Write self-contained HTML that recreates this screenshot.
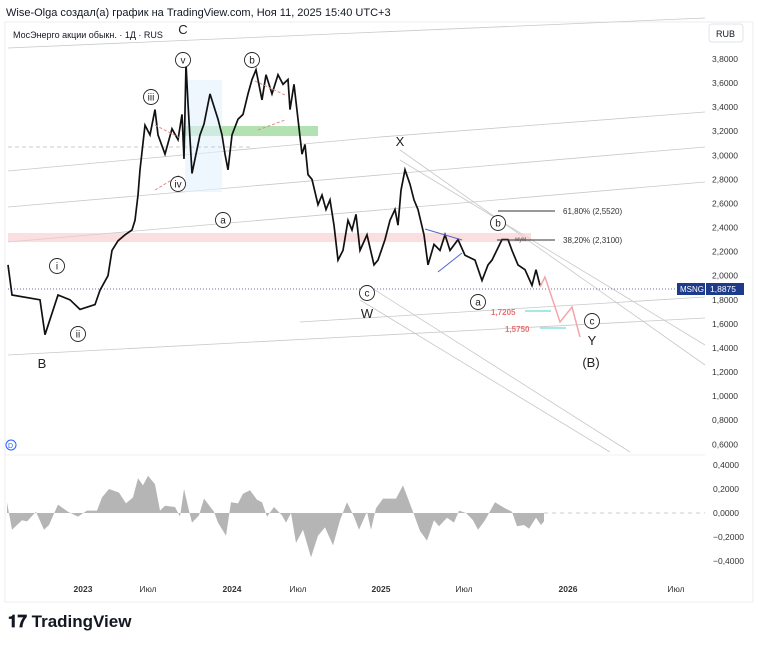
<!DOCTYPE html>
<html><head><meta charset="utf-8"><style>
body{margin:0;background:#fff;font-family:"Liberation Sans","Noto Sans CJK SC",sans-serif;}
svg text{font-family:"Liberation Sans","DejaVu Sans",sans-serif;}
</style></head><body>
<svg id="c" width="758" height="644" viewBox="0 0 758 644" xmlns="http://www.w3.org/2000/svg">
<rect width="758" height="644" fill="#fff"/>
<text x="6" y="16" font-size="11" fill="#131722">Wise-Olga создал(а) график на TradingView.com, Ноя 11, 2025 15:40 UTC+3</text>
<rect x="5" y="22" width="748" height="580" fill="none" stroke="#eceef2"/>
<line x1="5" y1="455" x2="705" y2="455" stroke="#f0f0f0"/>
<text x="13" y="38" font-size="9" fill="#131722">МосЭнерго акции обыкн. · 1Д · RUS</text>
<rect x="709" y="24" width="34" height="18" rx="3" fill="#fff" stroke="#e0e3eb"/>
<text x="716" y="37" font-size="9" fill="#131722">RUB</text>
<g id="bg"></g>
<rect x="8" y="233" width="523" height="9" fill="#f8c8cc" opacity="0.6"/>
<rect x="185" y="126" width="133" height="10" fill="#9fdb9f" opacity="0.8"/>
<rect x="185" y="80" width="37" height="112" fill="#e3f2fd" opacity="0.6"/>
<line x1="8" y1="147" x2="250" y2="147" stroke="#bbb" stroke-dasharray="4 3" stroke-width="0.7"/>
<line x1="8" y1="289" x2="705" y2="289" stroke="#3a4a8a" stroke-dasharray="1 2" stroke-width="0.8"/>
<g id="price"></g>
<g id="annot"></g>
<g id="axis"></g>
<g id="osc"></g>
<text x="8" y="627" font-size="17" font-weight="bold" fill="#131722">𝟏𝟕 TradingView</text>
</svg>
<script>
const NS='http://www.w3.org/2000/svg';
function mk(parent,tag,attrs,name,txt){const e=document.createElementNS(NS,tag);for(const k in attrs)e.setAttribute(k,attrs[k]);


if(txt!==undefined)e.textContent=txt;document.getElementById(parent).appendChild(e);return e;}

const priceBars=[0,4,32,37,50,62,72,87,92,100,104,110,117,124,127,130,132,137,142,147,150,157,164,170,174,176,178,180,184,192,196,202,210,214,217,220,224,230,235,240,244,248,254,258,264,270,275,280,282,286,290,294,297,300,304,310,314,318,322,326,330,335,340,344,348,352,359,366,370,377,382,387,390,393,397,402,406,410,416,420,426,432,437,442,450,457,467,474,480,484,494,498,500,504,510,517,524,528,532];
const prices=[2.09,1.84,1.80,1.51,1.84,1.80,1.72,1.76,1.88,2.00,2.21,2.29,2.34,2.38,2.46,2.67,2.88,3.25,3.17,3.38,3.17,3.01,3.22,3.13,3.34,2.97,3.76,3.43,2.85,3.17,3.26,3.51,3.30,3.17,3.01,2.88,3.17,3.30,3.34,3.51,3.63,3.71,3.46,3.67,3.51,3.67,3.59,3.63,3.38,3.59,3.30,3.01,3.09,2.84,2.80,2.59,2.67,2.55,2.63,2.42,2.13,2.21,2.46,2.38,2.51,2.21,2.34,2.09,2.13,2.30,2.46,2.55,2.42,2.71,2.88,2.76,2.63,2.55,2.34,2.09,2.26,2.21,2.34,2.21,2.30,2.17,2.13,1.96,2.09,2.13,2.30,2.30,2.30,2.21,2.09,2.05,1.92,2.05,1.92];
const oscBars=[-1,4,14,19,28,36,41,50,60,70,79,89,94,101,111,118,125,130,135,140,147,152,157,167,172,176,181,184,191,196,206,210,218,223,230,235,242,249,254,259,266,274,278,283,288,295,303,310,317,325,332,339,346,351,359,363,368,375,383,388,395,405,412,419,426,431,439,446,451,458,465,470,477,487,497,504,509,516,521,528,533,536];
const oscVals=[0.09,-0.14,-0.06,-0.07,0.01,-0.14,-0.10,0.07,0.01,-0.03,0.02,0.02,0.13,0.20,0.17,0.08,0.13,0.29,0.23,0.31,0.24,0.02,0.06,0.05,-0.03,0.20,0.02,-0.08,-0.02,0.12,0.01,-0.08,-0.19,0.09,0.08,0.16,0.19,0.11,0.09,-0.03,0.05,-0.02,-0.08,0,-0.25,-0.14,-0.37,-0.19,-0.12,-0.27,-0.06,0.09,-0.03,-0.14,0.01,-0.14,0.04,0.12,0.12,0.12,0.23,0.01,-0.15,-0.23,-0.06,-0.11,-0.04,-0.08,0.02,0,-0.06,-0.14,-0.06,0.09,0.04,0.01,-0.11,-0.10,-0.13,-0.04,-0.10,-0.07];
const priceTicks=['3,8000','3,6000','3,4000','3,2000','3,0000','2,8000','2,6000','2,4000','2,2000','2,0000','1,8000','1,6000','1,4000','1,2000','1,0000','0,8000','0,6000'];
const priceTickVals=[3.8,3.6,3.4,3.2,3.0,2.8,2.6,2.4,2.2,2.0,1.8,1.6,1.4,1.2,1.0,0.8,0.6];
const oscTicks=['0,4000','0,2000','0,0000','−0,2000','−0,4000'];
const oscTickVals=[0.4,0.2,0,-0.2,-0.4];
const timeLabels=['2023','Июл','2024','Июл','2025','Июл','2026','Июл'];
const timeBars=[75,140,224,290,373,456,560,668];
const timeBold=[1,0,1,0,1,0,1,0];

const xS=b=>8+b;
const yP=p=>59+(3.8-p)*120.4;
const yO=v=>513-v*120;

const bgLines=[[8,48,705,18],[8,207,705,147],[8,242,705,182],[8,171,380,137],[380,137,705,112],[8,355,705,318],[300,322,705,297],[400,150,705,365],[400,160,705,345],[375,290,630,452],[360,300,610,452]];
bgLines.forEach(l=>{mk('bg','line',{x1:l[0],y1:l[1],x2:l[2],y2:l[3],stroke:'#c8c8c8','stroke-width':0.8},'channel-line');});

let d='';priceBars.forEach((b,i)=>{d+=(i?'L':'M')+xS(b).toFixed(1)+' '+yP(prices[i]).toFixed(1);});
mk('price','path',{d:d,fill:'none',stroke:'#111','stroke-width':1.7,'stroke-linejoin':'miter'},'price-series');

let od='M'+xS(oscBars[0])+' '+yO(0);oscBars.forEach((b,i)=>{od+='L'+xS(b)+' '+yO(oscVals[i]).toFixed(1);});
od+='L'+xS(oscBars[oscBars.length-1])+' '+yO(0)+'Z';
mk('osc','path',{d:od,fill:'#b5b5b5',stroke:'none'},'oscillator-area');
mk('osc','line',{x1:xS(oscBars[oscBars.length-1]),y1:yO(0),x2:705,y2:yO(0),stroke:'#ccc','stroke-dasharray':'4 4'},'oscillator-zero-line');

priceTickVals.forEach((v,i)=>{mk('axis','text',{x:712,y:yP(v)+3,'font-size':8.5,fill:'#333'},'price-tick-label',priceTicks[i]);});
oscTickVals.forEach((v,i)=>{mk('axis','text',{x:713,y:yO(v)+3,'font-size':8.5,fill:'#333'},'osc-tick-label',oscTicks[i]);});
timeLabels.forEach((t,i)=>{mk('axis','text',{x:xS(timeBars[i]),y:592,'font-size':8.5,fill:'#333','text-anchor':'middle','font-weight':timeBold[i]?'bold':'normal'},'time-label',t);});
mk('axis','rect',{x:677,y:283,width:28,height:12,fill:'#1e3a8a'},'symbol-tag');
mk('axis','text',{x:680,y:292,'font-size':8,fill:'#fff'},'symbol-tag-text','MSNG');
mk('axis','rect',{x:706,y:283,width:38,height:12,fill:'#1e3a8a'},'last-price-tag');
mk('axis','text',{x:710,y:292,'font-size':8.5,fill:'#fff'},'last-price-text','1,8875');
mk('axis','circle',{cx:11,cy:445,r:5,fill:'#fff',stroke:'#2962ff'},'indicator-icon');
mk('axis','text',{x:8,y:448,'font-size':7,fill:'#2962ff'},'indicator-icon-text','D');

const A='annot';
mk(A,'line',{x1:498,y1:211,x2:555,y2:211,stroke:'#333'},'fib-618-line');
mk(A,'text',{x:563,y:214,'font-size':8,fill:'#333'},'fib-618-label','61,80% (2,5520)');
mk(A,'line',{x1:497,y1:240,x2:555,y2:240,stroke:'#333'},'fib-382-line');
mk(A,'text',{x:563,y:243,'font-size':8,fill:'#333'},'fib-382-label','38,20% (2,3100)');
mk(A,'text',{x:515,y:241,'font-size':6,fill:'#555'},'fib-mini-label','мум');
mk(A,'polyline',{points:'540,287 545,277 560,322 572,307 580,337',fill:'none',stroke:'#f4a6aa','stroke-width':1.5},'projected-path');
mk(A,'text',{x:491,y:315,'font-size':8,'font-weight':'bold',fill:'#e57373'},'target-1-label','1,7205');
mk(A,'line',{x1:525,y1:311,x2:551,y2:311,stroke:'#4dd0c8'},'target-1-arrow');
mk(A,'text',{x:505,y:332,'font-size':8,'font-weight':'bold',fill:'#e57373'},'target-2-label','1,5750');
mk(A,'line',{x1:540,y1:328,x2:566,y2:328,stroke:'#4dd0c8'},'target-2-arrow');
mk(A,'line',{x1:425,y1:229,x2:462,y2:240,stroke:'#5566cc'},'triangle-upper');
mk(A,'line',{x1:438,y1:272,x2:462,y2:253,stroke:'#5566cc'},'triangle-lower');
mk(A,'line',{x1:155,y1:125,x2:180,y2:138,stroke:'#e08a8a','stroke-dasharray':'3 2'},'wedge-line');
mk(A,'line',{x1:155,y1:190,x2:180,y2:175,stroke:'#e08a8a','stroke-dasharray':'3 2'},'wedge-line');
mk(A,'line',{x1:255,y1:81,x2:285,y2:95,stroke:'#e08a8a','stroke-dasharray':'3 2'},'wedge-line');
mk(A,'line',{x1:258,y1:130,x2:285,y2:120,stroke:'#e08a8a','stroke-dasharray':'3 2'},'wedge-line');
const circ=[['i',57,266],['ii',78,334],['iii',151,97],['iv',178,184],['v',183,60],['b',252,60],['a',223,220],['c',367,293],['a',478,302],['b',498,223],['c',592,321]];
circ.forEach(c=>{mk(A,'circle',{cx:c[1],cy:c[2],r:7.5,fill:'#fff',stroke:'#222','stroke-width':0.9},'wave-circle-'+c[0]);
mk(A,'text',{x:c[1],y:c[2]+3.5,'font-size':10,fill:'#222','text-anchor':'middle'},'wave-label-'+c[0],c[0]);});
const plain=[['C',183,34],['B',42,368],['W',367,318],['X',400,146],['Y',592,345],['(B)',591,367]];
plain.forEach(p=>{mk(A,'text',{x:p[1],y:p[2],'font-size':13,fill:'#222','text-anchor':'middle'},'wave-label-'+p[0],p[0]);});
</script>
</body></html>
